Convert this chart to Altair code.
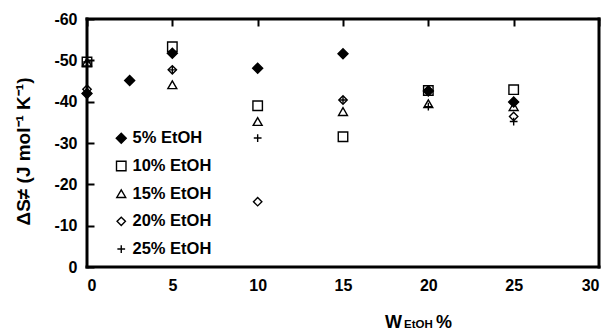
import altair as alt
import pandas as pd

series = ["5% EtOH", "10% EtOH", "15% EtOH", "20% EtOH", "25% EtOH"]
labels = ["\u20075% EtOH", "10% EtOH", "15% EtOH", "20% EtOH", "25% EtOH"]

x_5 = [0, 2.5, 5, 10, 15, 20, 25]
y_5 = [-42.0, -45.1, -51.7, -48.1, -51.6, -42.6, -39.9]
x_10 = [0, 5, 10, 15, 20, 25]
y_10 = [-49.6, -53.3, -39.0, -31.5, -42.7, -42.9]
x_15 = [0, 5, 10, 15, 20, 25]
y_15 = [-49.6, -44.1, -35.2, -37.6, -39.5, -38.8]
x_20 = [0, 5, 10, 15, 20, 25]
y_20 = [-43.0, -47.7, -15.8, -40.4, -42.7, -36.4]
x_25 = [0, 5, 10, 15, 20, 25]
y_25 = [-49.6, -47.7, -31.2, -40.4, -38.8, -35.2]

xs = [x_5, x_10, x_15, x_20, x_25]
ys = [y_5, y_10, y_15, y_20, y_25]
rows = []
for lab, xv, yv in zip(labels, xs, ys):
    for a, b in zip(xv, yv):
        rows.append({"series": lab, "w": a, "ds": b})
df = pd.DataFrame(rows)

x_ticks = [0, 5, 10, 15, 20, 25, 30]
y_ticks = [-60, -50, -40, -30, -20, -10, 0]

FONT = "Liberation Sans"
plus_path = "M-1,0H1M0,-1V1"
W, H = 512, 248
T = 1.5  # half thickness of frame

legend = alt.Legend(
    title=None, orient="none", legendX=26, legendY=111,
    labelFont=FONT, labelFontSize=16.5, labelFontWeight="bold", labelColor="black",
    labelOffset=3, rowPadding=10.7, symbolStrokeWidth=1.4,
    padding=0, labelLimit=200,
)

points = alt.Chart(df).mark_point(strokeWidth=1.4, opacity=1).encode(
    x=alt.X("w:Q", scale=alt.Scale(domain=[0, 30], nice=False),
            axis=alt.Axis(values=x_ticks, title=None, labelFont=FONT, labelFontSize=16,
                          labelFontWeight="bold", labelColor="black", labelPadding=10,
                          domain=False, ticks=False, grid=True, gridColor="black",
                          gridWidth=2, gridDash=[7, 2000], gridOpacity=1)),
    y=alt.Y("ds:Q", scale=alt.Scale(domain=[0, -60], nice=False),
            axis=alt.Axis(values=y_ticks, title="ΔS≠ (J mol⁻¹ K⁻¹)",
                          labelExpr="datum.value == 0 ? '0' : '-' + abs(datum.value)",
                          labelFont=FONT, labelFontSize=16, labelFontWeight="bold",
                          labelColor="black", labelPadding=10,
                          titleFont=FONT, titleFontSize=19, titleFontWeight="bold",
                          titleColor="black", titleAngle=-90, titleAlign="center",
                          titleBaseline="middle", titleX=-64, titleY=132,
                          domain=False, ticks=False, grid=True, gridColor="black",
                          gridWidth=2, gridDash=[7, 2000], gridOpacity=1)),
    shape=alt.Shape("series:N", sort=labels,
                    scale=alt.Scale(domain=labels,
                                    range=["diamond", "square", "triangle-up", "diamond", plus_path]),
                    legend=legend),
    fill=alt.Fill("series:N", sort=labels,
                  scale=alt.Scale(domain=labels,
                                  range=["black", "transparent", "transparent", "transparent", "transparent"]),
                  legend=legend),
    stroke=alt.Stroke("series:N", sort=labels,
                      scale=alt.Scale(domain=labels,
                                      range=["black", "black", "black", "black", "black"]),
                      legend=legend),
    size=alt.Size("series:N", sort=labels,
                  scale=alt.Scale(domain=labels, range=[100, 60, 65, 60, 140]),
                  legend=legend),
)


def bar(x0, x1, y0, y1):
    return alt.Chart().mark_rect(color="black", opacity=1).encode(
        x=alt.value(x0), x2=alt.value(x1), y=alt.value(y0), y2=alt.value(y1))


frame = [
    bar(-T, W + T, -T, T),
    bar(-T, W + T, H - T, H + T),
    bar(-T, T, -T, H + T),
    bar(W - T, W + T, -T, H + T),
]

t_w = alt.Chart().mark_text(text="W", font=FONT, fontSize=18, fontWeight="bold",
                            align="left", baseline="alphabetic", color="black").encode(
    x=alt.value(298), y=alt.value(309))
t_sub = alt.Chart().mark_text(text="EtOH", font=FONT, fontSize=11.5, fontWeight="bold",
                              align="left", baseline="alphabetic", color="black").encode(
    x=alt.value(317), y=alt.value(309))
t_pct = alt.Chart().mark_text(text="%", font=FONT, fontSize=18, fontWeight="bold",
                              align="left", baseline="alphabetic", color="black").encode(
    x=alt.value(349), y=alt.value(309))

chart = alt.layer(points, *frame, t_w, t_sub, t_pct).properties(
    width=W, height=H,
    autosize=alt.AutoSizeParams(type="none"),
    padding={"left": 87, "top": 19, "right": 11, "bottom": 64},
).configure(background="white")

chart.save("out.html", embed_options={"renderer": "svg", "actions": False})
